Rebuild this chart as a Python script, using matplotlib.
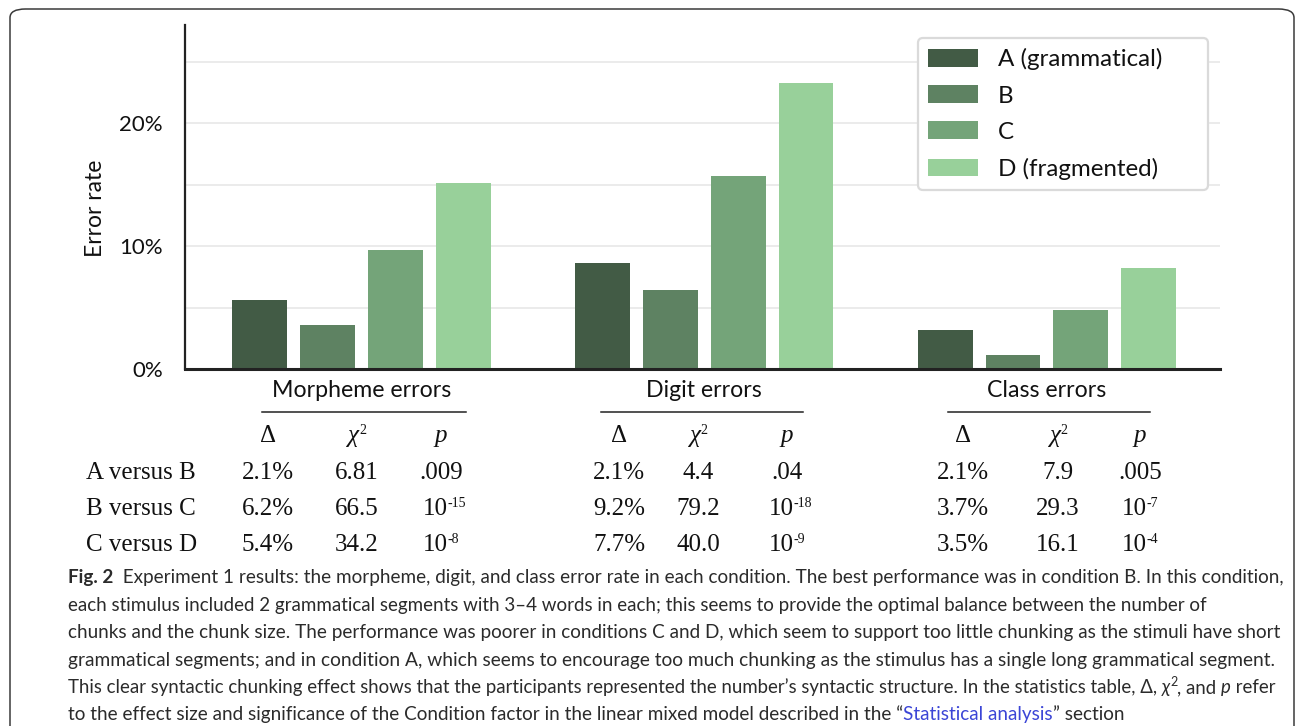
import matplotlib.pyplot as plt
from matplotlib.patches import FancyBboxPatch
from matplotlib.lines import Line2D
import numpy as np

W, H = 1295, 726
SANS = ["Lato", "DejaVu Sans"]
SERIF = ["Liberation Serif", "DejaVu Serif"]

# error rate (%) per condition; order follows error_types
error_types = ["Morpheme errors", "Digit errors", "Class errors"]
conditions = ["A (grammatical)", "B", "C", "D (fragmented)"]
colors = ["#425b45", "#5e8262", "#74a479", "#98d09a"]
rate_a = [5.6, 8.6, 3.2]
rate_b = [3.6, 6.4, 1.1]
rate_c = [9.7, 15.7, 4.8]
rate_d = [15.1, 23.3, 8.2]

# statistics table (Condition factor, linear mixed model)
comparisons = ["A versus B", "B versus C", "C versus D"]
morpheme_delta = ["2.1%", "6.2%", "5.4%"]
morpheme_chi2 = ["6.81", "66.5", "34.2"]
morpheme_p = [".009", "10^-15", "10^-8"]
digit_delta = ["2.1%", "9.2%", "7.7%"]
digit_chi2 = ["4.4", "79.2", "40.0"]
digit_p = [".04", "10^-18", "10^-9"]
class_delta = ["2.1%", "3.7%", "3.5%"]
class_chi2 = ["7.9", "29.3", "16.1"]
class_p = [".005", "10^-7", "10^-4"]

caption_lines = [
    [("Fig. 2", {"weight": "bold"}),
     ("  Experiment 1 results: the morpheme, digit, and class error rate in each condition. "
      "The best performance was in condition B. In this condition,", {})],
    [("each stimulus included 2 grammatical segments with 3\u20134 words in each; this seems "
      "to provide the optimal balance between the number of", {})],
    [("chunks and the chunk size. The performance was poorer in conditions C and D, which "
      "seem to support too little chunking as the stimuli have short", {})],
    [("grammatical segments; and in condition A, which seems to encourage too much chunking "
      "as the stimulus has a single long grammatical segment.", {})],
    [("This clear syntactic chunking effect shows that the participants represented the "
      "number\u2019s syntactic structure. In the statistics table, \u0394, ", {}),
     ("\u03c7", {"style": "italic"}),
     ("2", {"fontsize": 9, "rise": 7}),
     (", and ", {}),
     ("p", {"style": "italic"}),
     (" refer", {})],
    [("to the effect size and significance of the Condition factor in the linear mixed model "
      "described in the \u201c", {}),
     ("Statistical analysis", {"color": "#3b45d6"}),
     ("\u201d section", {})],
]

fig = plt.figure(figsize=(W / 100, H / 100), dpi=100)
renderer = fig.canvas.get_renderer()


def fx(x):
    return x / W


def fy(y):
    return 1 - y / H


# outer frame of the figure panel
fig.patches.append(FancyBboxPatch((fx(10), fy(740)), fx(1294) - fx(10), fy(9) - fy(740),
                                  boxstyle="round,pad=0,rounding_size=0.012",
                                  transform=fig.transFigure, fill=False,
                                  edgecolor="#3a3a3a", linewidth=1.1, clip_on=False))

ax = fig.add_axes([fx(185), fy(369), fx(1220) - fx(185), fy(25) - fy(369)])

x = np.arange(len(error_types))
pitch, width = 0.198, 0.16
for j, (vals, lab, col) in enumerate(zip([rate_a, rate_b, rate_c, rate_d], conditions, colors)):
    ax.bar(x + (j - 1.5) * pitch, vals, width, color=col, label=lab, zorder=2)

ax.set_xlim(-0.515, 2.505)
ax.set_ylim(0, 28)
ax.set_yticks([0, 10, 20])
ax.set_yticklabels(["0%", "10%", "20%"])
ax.set_yticks([5, 15, 25], minor=True)
ax.yaxis.grid(True, which="both", color="#e6e6e6", linewidth=1.1)
ax.set_axisbelow(True)
ax.set_xticks(x)
ax.set_xticklabels(error_types)
ax.tick_params(axis="both", which="both", length=0)
ax.tick_params(axis="y", pad=16, labelsize=16, labelcolor="#111111")
ax.tick_params(axis="x", pad=8, labelsize=16.7, labelcolor="#111111")
for lbl in ax.get_xticklabels() + ax.get_yticklabels():
    lbl.set_family(SANS)
for side in ["top", "right"]:
    ax.spines[side].set_visible(False)
ax.spines["left"].set_linewidth(1.6)
ax.spines["left"].set_color("#222222")
ax.spines["bottom"].set_linewidth(2.2)
ax.spines["bottom"].set_color("#222222")

fig.text(fx(95), fy(208), "Error rate", rotation=90, ha="center", va="center",
         fontsize=16.5, family=SANS, color="#111111")

leg = ax.legend(loc="upper left",
                bbox_to_anchor=(fx(918), fy(192), fx(1208) - fx(918), fy(38) - fy(192)),
                bbox_transform=fig.transFigure, mode="expand", borderaxespad=0,
                prop={"family": SANS, "size": 17.4}, handlelength=2.07, handleheight=0.75,
                handletextpad=0.83, labelspacing=0.62, borderpad=0.42,
                fancybox=True, framealpha=1, edgecolor="#dadada")
leg.get_frame().set_linewidth(1.6)
for t in leg.get_texts():
    t.set_color("#111111")

# statistics table below the bars
rules = [(262, 466), (601, 803), (948, 1150)]
cols = [(268, 357, 441), (619, 698, 787), (963, 1058, 1140)]
table = [(morpheme_delta, morpheme_chi2, morpheme_p),
         (digit_delta, digit_chi2, digit_p),
         (class_delta, class_chi2, class_p)]
row_y = [473, 509, 545]
head_y = 436
tfs = 18

for (x0, x1) in rules:
    fig.add_artist(Line2D([fx(x0), fx(x1)], [fy(412), fy(412)], color="#222222",
                          linewidth=1.1, transform=fig.transFigure))


def serif_text(xp, yp, s, **kw):
    return fig.text(fx(xp), fy(yp), s, ha=kw.pop("ha", "center"), va=kw.pop("va", "center"),
                    family=SERIF, color="#111111", **kw)


def superscript(base, s):
    return ax.annotate(s, xy=(1, 1), xycoords=base, xytext=(-0.3, 0.5),
                       textcoords="offset points", ha="left", va="top",
                       fontsize=10, family=SERIF, color="#111111")


for (cd, cc, cp) in cols:
    serif_text(cd, head_y, "\u0394", fontsize=tfs)
    chi = serif_text(cc - 3, head_y, "\u03c7", fontsize=tfs, style="italic")
    superscript(chi, "2")
    serif_text(cp, head_y, "p", fontsize=tfs, style="italic")

for r, (lab, yy) in enumerate(zip(comparisons, row_y)):
    serif_text(86, yy, lab, fontsize=tfs, ha="left")
    for (cd, cc, cp), (dv, cv, pv) in zip(cols, table):
        serif_text(cd, yy, dv[r], fontsize=tfs)
        serif_text(cc, yy, cv[r], fontsize=tfs)
        if "^" in pv[r]:
            base, expo = pv[r].split("^")
            t = serif_text(cp - 6, yy, base, fontsize=tfs)
            superscript(t, expo)
        else:
            serif_text(cp, yy, pv[r], fontsize=tfs)


# caption, drawn piece by piece along each baseline
def advance(s, kw):
    t = fig.text(0, 0, "x" + s + "x", **kw)
    t2 = fig.text(0, 0, "xx", **kw)
    w = t.get_window_extent(renderer).width - t2.get_window_extent(renderer).width
    t.remove()
    t2.remove()
    return w


cap_sizes = [13.55, 13.5, 13.55, 13.75, 13.4, 13.55]
cap_y = [583, 611, 638, 666, 693, 720]
for pieces, yb, size in zip(caption_lines, cap_y, cap_sizes):
    xp = 68
    for s, style in pieces:
        kw = {"family": SANS, "fontsize": size, "color": "#2b2b2b"}
        kw.update(style)
        rise = kw.pop("rise", 0)
        fig.text(fx(xp), fy(yb - rise), s, ha="left", va="baseline", **kw)
        xp += advance(s, kw)

fig.savefig("out.png", dpi=100)
